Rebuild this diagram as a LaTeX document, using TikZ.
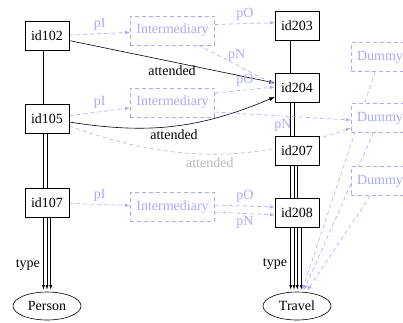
\documentclass[tikz,border=0pt]{standalone}
\usepackage{fontspec}
\setmainfont{LiberationSerif}[Extension=.ttf, UprightFont=*-Regular, BoldFont=*-Bold]
\usetikzlibrary{arrows.meta,shapes.geometric,backgrounds,calc}
\definecolor{lblue}{RGB}{170,170,255}
\definecolor{lgrey}{RGB}{185,185,185}
\begin{document}
\begin{tikzpicture}[x=1pt,y=-1pt,
  every node/.style={font=\rmfamily\fontsize{14}{17}\selectfont},
  res/.style={draw, fill=white, line width=0.6pt, minimum height=29pt, inner xsep=6pt},
  aux/.style={draw=lblue, text=lblue, dash pattern=on 4pt off 3pt, fill=white, line width=0.6pt, minimum height=29pt, inner xsep=6pt},
  cls/.style={draw, ellipse, fill=white, line width=0.6pt, minimum width=68pt, minimum height=28pt, inner sep=0pt},
  blk/.style={draw, line width=0.6pt, -{Latex[length=5.5pt,width=4pt]}},
  bl/.style={draw=lblue, line width=0.6pt, dash pattern=on 4pt off 3pt, -{Latex[length=5pt,width=3.5pt]}},
  gr/.style={draw=lgrey, line width=0.6pt, dash pattern=on 4pt off 3pt, -{Latex[length=5pt,width=3.5pt]}},
  typ/.style={draw, line width=0.6pt, -{Latex[length=4.5pt,width=3pt]}, shorten >=2pt},
  lab/.style={text=lblue, inner sep=3pt},
  glab/.style={text=lgrey, inner sep=3pt},
]
\useasboundingbox (0,0) rectangle (403,322);
% nodes
\node[res] (id102) at (47,36) {id102};
\node[res] (id105) at (47,118.5) {id105};
\node[res] (id107) at (47,202.5) {id107};
\node[cls] (person) at (47,306) {Person};
\node[res] (id203) at (297,25.7) {id203};
\node[res] (id204) at (297,87.5) {id204};
\node[res] (id207) at (297,150.5) {id207};
\node[res] (id208) at (297,213) {id208};
\node[cls] (travel) at (297,306) {Travel};
\node[aux] (int1) at (172.5,30.5) {Intermediary};
\node[aux] (int2) at (172.5,102.5) {Intermediary};
\node[aux] (int3) at (172.5,207) {Intermediary};
\node[aux] (dum1) at (380,57) {Dummy};
\node[aux] (dum2) at (380,118) {Dummy};
\node[aux] (dum3) at (380,181) {Dummy};
% edges
\begin{scope}[on background layer]
\draw[typ] ([xshift=-3.5pt]id102.south) -- node[pos=0.89, left]{type} ([xshift=-3.5pt]person.north);
\draw[typ] (id105.south) -- (person.north);
\draw[typ] ([xshift=3.7pt]id107.south) -- ([xshift=3.7pt]person.north);
\draw[typ] ([xshift=-6.3pt]id203.south) -- node[pos=0.89, left]{type} ([xshift=-6.3pt]travel.north);
\draw[typ] ([xshift=-3pt]id204.south) -- ([xshift=-3pt]travel.north);
\draw[typ] ([xshift=0.3pt]id207.south) -- ([xshift=0.3pt]travel.north);
\draw[typ] ([xshift=4.3pt]id208.south) -- ([xshift=4.3pt]travel.north);
\draw[blk] (id102) -- node[below]{attended} (id204);
\draw[blk] (id105) to[bend right=16] node[below]{attended} (id204);
\draw[gr] (id105) to[bend right=19] node[below, glab]{attended} (dum2);
\draw[bl] (id102) -- node[above, lab]{pI} (int1);
\draw[bl] (id105) -- node[above, lab]{pI} (int2);
\draw[bl] (id107) -- node[above, lab]{pI} (int3);
\draw[bl] ([yshift=6pt]int1.east) -- node[above, lab]{pO} ([yshift=3pt]id203.west);
\draw[bl] ([xshift=26pt]int1.south) -- node[above, lab]{pN} ([yshift=3pt]id204.west);
\draw[bl] ([yshift=9.5pt]int2.east) -- node[above, lab]{pO} ([yshift=0.5pt]id204.west);
\draw[bl] ([yshift=-9.5pt]int2.east) -- node[below, lab]{pN} ([yshift=-2pt]dum2.west);
\draw[bl] ([yshift=2pt]int3.east) -- node[above, lab]{pO} ([yshift=6pt]id208.west);
\draw[bl] ([yshift=-5pt]int3.east) -- node[below, lab]{pN} ([yshift=-2pt]id208.west);
\draw[bl, shorten >=2pt] (dum1) -- (travel);
\draw[bl, shorten >=2pt] (dum2) -- (travel);
\draw[bl, shorten >=2pt] (dum3) -- (travel);
\end{scope}
\end{tikzpicture}
\end{document}
